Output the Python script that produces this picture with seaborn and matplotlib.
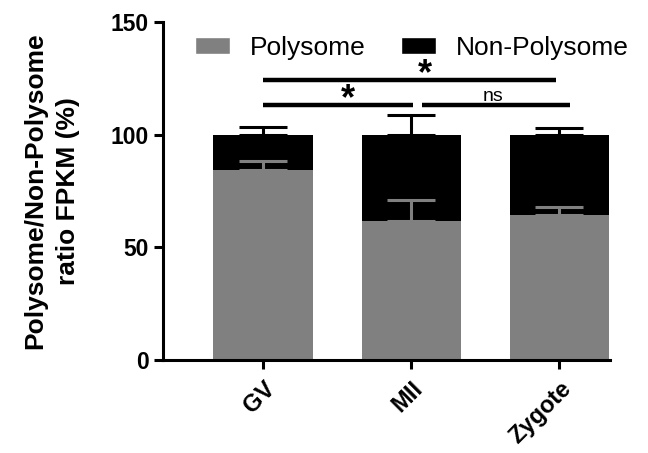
import matplotlib
matplotlib.use("Agg")
import matplotlib.pyplot as plt
import seaborn as sns
import pandas as pd
from matplotlib.patches import Patch

# Mean percentages per developmental stage, with SD
stages = ["GV", "MII", "Zygote"]
polysome = [84.5, 61.8, 64.5]
polysome_sd = [4.0, 9.0, 3.3]
non_polysome = [15.5, 38.2, 35.5]
non_polysome_sd = [3.6, 8.6, 3.1]

# Significance brackets: (start, end, height, label, label x)
brackets = [
    (0.0, 1.98, 124.3, "*", 1.095),
    (0.0, 1.01, 113.2, "*", 0.57),
    (1.07, 2.07, 113.2, "ns", 1.55),
]

sns.set_style("ticks")
plt.rcParams["font.family"] = ["Liberation Sans", "DejaVu Sans"]
plt.rcParams.update({
    "text.color": "black",
    "axes.labelcolor": "black",
    "axes.edgecolor": "black",
    "xtick.color": "black",
    "ytick.color": "black",
})

fig = plt.figure(figsize=(6.48, 4.53), dpi=100)
ax = fig.add_axes([0.2515, 0.2053, 0.6895, 0.7461])

grey = "#808080"
totals = [p + n for p, n in zip(polysome, non_polysome)]
df = pd.DataFrame({"stage": stages, "polysome": polysome, "total": totals})

# Stacked bars: full height in black, polysome share in grey on top of it
sns.barplot(data=df, x="stage", y="total", color="black", width=0.67,
            saturation=1, errorbar=None, ax=ax, linewidth=0)
sns.barplot(data=df, x="stage", y="polysome", color=grey, width=0.67,
            saturation=1, errorbar=None, ax=ax, linewidth=0)

xs = list(range(len(stages)))
ax.errorbar(xs, totals, yerr=[[0] * 3, non_polysome_sd], fmt="none",
            ecolor="black", elinewidth=2.2, capsize=17.6, capthick=2.2, zorder=5)
ax.errorbar(xs, polysome, yerr=[[0] * 3, polysome_sd], fmt="none",
            ecolor=grey, elinewidth=2.2, capsize=17.6, capthick=2.2, zorder=5)

for x0, x1, h, lab, tx in brackets:
    ax.plot([x0, x1], [h, h], color="black", lw=3.2, solid_capstyle="butt", clip_on=False)
    if lab == "*":
        ax.text(tx, h - 2.0, lab, ha="center", va="baseline",
                fontsize=26, fontweight="bold")
    else:
        ax.text(tx, h + 1.6, lab, ha="center", va="baseline", fontsize=14)

ax.set_xlim(-0.676, 2.34)
ax.set_ylim(0, 150)
ax.set_yticks([0, 50, 100, 150])
ax.set_xlabel("")
ax.set_ylabel("Polysome/Non-Polysome\nratio FPKM (%)", fontsize=19,
              fontweight="bold", linespacing=1.45)
ax.yaxis.set_label_coords(-0.186, 0.5)

for side in ["top", "right"]:
    ax.spines[side].set_visible(False)
for side in ["left", "bottom"]:
    ax.spines[side].set_linewidth(2.2)
    ax.spines[side].set_color("black")
ax.tick_params(axis="both", width=2.2, length=6.5, labelsize=16.5, colors="black")
ax.tick_params(axis="y", pad=3.5)
ax.tick_params(axis="x", pad=6, labelsize=17)
for lbl in ax.get_yticklabels():
    lbl.set_fontweight("bold")
plt.setp(ax.get_xticklabels(), rotation=45, ha="right", rotation_mode="anchor",
         fontweight="bold")

handles = [Patch(facecolor=grey, label="Polysome"),
           Patch(facecolor="black", label="Non-Polysome")]
ax.legend(handles=handles, ncol=2, loc="upper left", bbox_to_anchor=(0.0716, 0.959),
          frameon=False, fontsize=19, borderaxespad=0, borderpad=0,
          handlelength=1.33, handleheight=0.64, handletextpad=0.76, columnspacing=1.33)

fig.savefig("out.png", dpi=100)
